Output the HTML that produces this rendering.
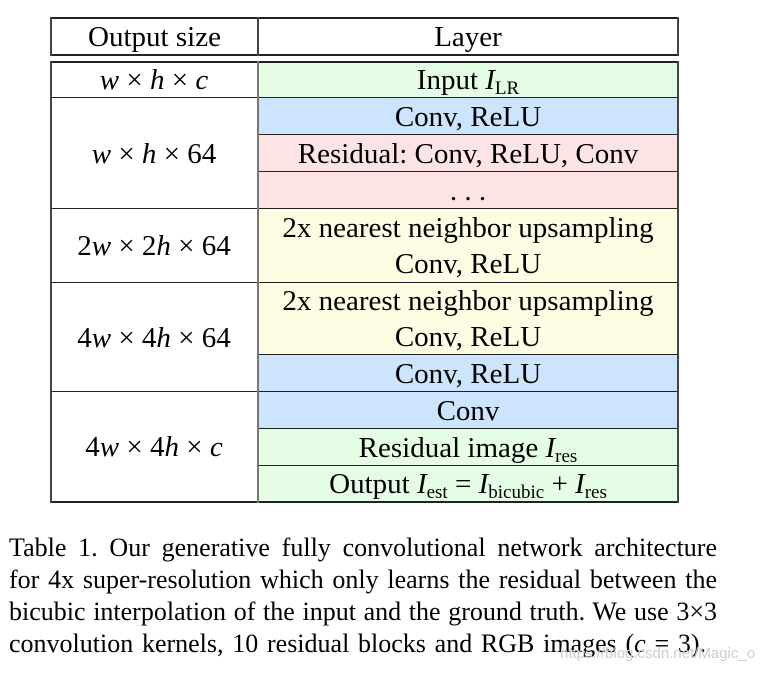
<!DOCTYPE html>
<html><head><style>
body{margin:0;width:770px;height:673px;background:#fff;position:relative;font-family:"Liberation Serif",serif;color:#000;overflow:hidden}
.c{position:absolute;box-sizing:border-box;display:flex;flex-direction:column;align-items:center;justify-content:center;font-size:29px;line-height:36px;white-space:nowrap}
.g{background:#e5fde5}.b{background:#cce4fc}.p{background:#fce4e4}.y{background:#fdfde4}
.h{position:absolute;background:#222}
.v{position:absolute;background:#444;width:2px}
i{font-style:italic}
sub{font-size:19px;vertical-align:-5px;line-height:0}
.cap{position:absolute;left:9px;width:708px;font-size:26px;line-height:32px;text-align:justify;text-align-last:justify;white-space:nowrap}
</style></head><body>
<div class="c" style="left:51px;top:19px;width:207px;height:36px"><span>Output size</span></div>
<div class="c" style="left:259px;top:19px;width:418px;height:36px"><span>Layer</span></div>
<div class="h" style="left:50px;top:17px;width:629px;height:2px"></div>
<div class="h" style="left:50px;top:54px;width:629px;height:2px"></div>
<div class="v" style="left:50px;top:17px;height:39px"></div>
<div class="v" style="left:257px;top:17px;height:39px"></div>
<div class="v" style="left:677px;top:17px;height:39px"></div>

<div class="c g" style="left:259px;top:62px;width:418px;height:36px"><span>Input <i>I</i><sub>LR</sub></span></div>
<div class="c b" style="left:259px;top:98px;width:418px;height:37px"><span>Conv, ReLU</span></div>
<div class="c p" style="left:259px;top:135px;width:418px;height:37px"><span>Residual: Conv, ReLU, Conv</span></div>
<div class="c p" style="left:259px;top:172px;width:418px;height:37px"><span>. . .</span></div>
<div class="c y" style="left:259px;top:209px;width:418px;height:74px"><div>2x nearest neighbor upsampling</div><div>Conv, ReLU</div></div>
<div class="c y" style="left:259px;top:283px;width:418px;height:72px"><div>2x nearest neighbor upsampling</div><div>Conv, ReLU</div></div>
<div class="c b" style="left:259px;top:355px;width:418px;height:37px"><span>Conv, ReLU</span></div>
<div class="c b" style="left:259px;top:392px;width:418px;height:37px"><span>Conv</span></div>
<div class="c g" style="left:259px;top:429px;width:418px;height:37px"><span>Residual image <i>I</i><sub>res</sub></span></div>
<div class="c g" style="left:259px;top:466px;width:418px;height:36px"><span>Output <i>I</i><sub>est</sub> = <i>I</i><sub>bicubic</sub> + <i>I</i><sub>res</sub></span></div>

<div class="c" style="left:51px;top:62px;width:206px;height:36px"><span><i>w</i> × <i>h</i> × <i>c</i></span></div>
<div class="c" style="left:51px;top:98px;width:206px;height:111px"><span><i>w</i> × <i>h</i> × 64</span></div>
<div class="c" style="left:51px;top:209px;width:206px;height:74px"><span>2<i>w</i> × 2<i>h</i> × 64</span></div>
<div class="c" style="left:51px;top:283px;width:206px;height:109px"><span>4<i>w</i> × 4<i>h</i> × 64</span></div>
<div class="c" style="left:51px;top:392px;width:206px;height:110px"><span>4<i>w</i> × 4<i>h</i> × <i>c</i></span></div>

<div class="h" style="left:50px;top:61px;width:629px;height:2px"></div>
<div class="h" style="left:50px;top:97px;width:629px;height:1px"></div>
<div class="h" style="left:259px;top:134px;width:420px;height:1px"></div>
<div class="h" style="left:259px;top:171px;width:420px;height:1px"></div>
<div class="h" style="left:50px;top:208px;width:629px;height:1px"></div>
<div class="h" style="left:50px;top:282px;width:629px;height:1px"></div>
<div class="h" style="left:259px;top:354px;width:420px;height:1px"></div>
<div class="h" style="left:50px;top:391px;width:629px;height:1px"></div>
<div class="h" style="left:259px;top:428px;width:420px;height:1px"></div>
<div class="h" style="left:259px;top:465px;width:420px;height:1px"></div>
<div class="h" style="left:50px;top:501px;width:629px;height:2px"></div>
<div class="v" style="left:50px;top:61px;height:442px"></div>
<div class="v" style="left:257px;top:61px;height:442px;background:#777"></div>
<div class="v" style="left:677px;top:61px;height:442px"></div>

<div class="cap" style="top:532px">Table 1. Our generative fully convolutional network architecture</div>
<div class="cap" style="top:564px">for 4x super-resolution which only learns the residual between the</div>
<div class="cap" style="top:596px">bicubic interpolation of the input and the ground truth. We use 3×3</div>
<div class="cap" style="top:628px;width:697px">convolution kernels, 10 residual blocks and RGB images (<i>c</i> = 3).</div>
<div style="position:absolute;left:560px;top:645px;font-family:'Liberation Sans',sans-serif;font-size:15px;color:#ccc">https://blog.csdn.net/Magic_o</div>
</body></html>
